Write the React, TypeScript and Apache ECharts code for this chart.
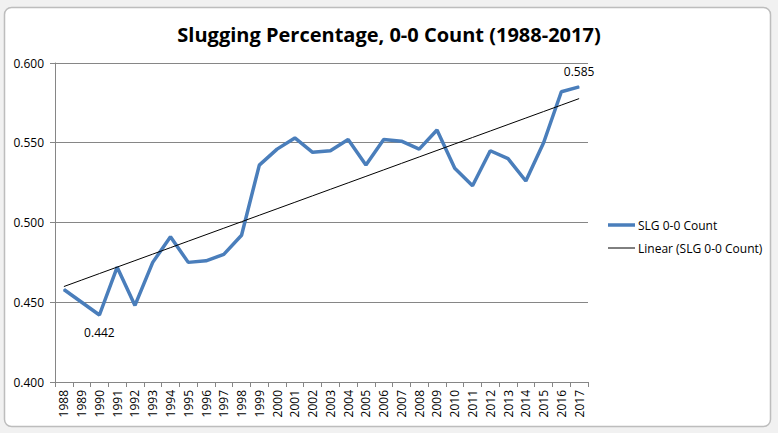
import React, { useEffect, useRef } from "react";
import * as echarts from "echarts";

const years = ["1988","1989","1990","1991","1992","1993","1994","1995","1996","1997","1998","1999","2000","2001","2002","2003","2004","2005","2006","2007","2008","2009","2010","2011","2012","2013","2014","2015","2016","2017"];
const slg = [0.458, 0.450, 0.442, 0.472, 0.448, 0.475, 0.491, 0.475, 0.476, 0.480, 0.492, 0.536, 0.546, 0.553, 0.544, 0.545, 0.552, 0.536, 0.552, 0.551, 0.546, 0.558, 0.534, 0.523, 0.545, 0.540, 0.526, 0.550, 0.582, 0.585];
const yTicks = { min: 0.4, max: 0.6, interval: 0.05 };
const seriesName = "SLG 0-0 Count";
const trendName = "Linear (SLG 0-0 Count)";
const title = "Slugging Percentage, 0-0 Count (1988-2017)";
const labelBelow = [2];
const labelAbove = [29];

function linearFit(v: number[]) {
  const n = v.length;
  let sx = 0, sy = 0, sxx = 0, sxy = 0;
  v.forEach((y, i) => { sx += i; sy += y; sxx += i * i; sxy += i * y; });
  const b = (n * sxy - sx * sy) / (n * sxx - sx * sx);
  const a = (sy - b * sx) / n;
  return v.map((_, i) => a + b * i);
}

const FONT = "'Open Sans', 'Noto Sans', sans-serif";
const BLUE = "#4a7ebb";

export default function App() {
  const ref = useRef<HTMLDivElement>(null);
  useEffect(() => {
    if (!ref.current) return;
    const chart = echarts.init(ref.current, undefined, { renderer: "svg" });
    const trend = linearFit(slg);
    chart.setOption({
      animation: false,
      backgroundColor: "#f1f1f1",
      graphic: [
        {
          type: "rect",
          z: -10,
          shape: { x: 4.5, y: 7.5, width: 766, height: 419, r: 7 },
          style: { fill: "#ffffff", stroke: "#bdbdbd", lineWidth: 1.5 },
          silent: true,
        },
        {
          type: "line",
          shape: { x1: 608, y1: 225, x2: 635, y2: 225 },
          style: { stroke: BLUE, lineWidth: 3.5 },
          silent: true,
        },
        {
          type: "text",
          x: 638,
          y: 225,
          style: { text: seriesName, fontFamily: FONT, fontSize: 12, fill: "#000", verticalAlign: "middle", align: "left" },
          silent: true,
        },
        {
          type: "line",
          shape: { x1: 608, y1: 248, x2: 635, y2: 248 },
          style: { stroke: "#000", lineWidth: 1 },
          silent: true,
        },
        {
          type: "text",
          x: 638,
          y: 248,
          style: { text: trendName, fontFamily: FONT, fontSize: 12, fill: "#000", verticalAlign: "middle", align: "left" },
          silent: true,
        },
      ],
      title: {
        text: title,
        left: "center",
        top: 19,
        textStyle: { fontFamily: FONT, fontSize: 20, fontWeight: "bold", color: "#000" },
      },
      grid: { left: 55, right: 190, top: 63, bottom: 51, containLabel: false },
      xAxis: {
        type: "category",
        data: years,
        boundaryGap: true,
        axisLine: { lineStyle: { color: "#868686", width: 1 } },
        axisTick: { show: true, alignWithLabel: false, length: 5, lineStyle: { color: "#868686" } },
        axisLabel: { rotate: 90, interval: 0, fontFamily: FONT, fontSize: 12, color: "#000", margin: 8 },
        splitLine: { show: false },
      },
      yAxis: {
        type: "value",
        min: yTicks.min,
        max: yTicks.max,
        interval: yTicks.interval,
        axisLine: { show: true, lineStyle: { color: "#868686", width: 1 } },
        axisTick: { show: true, length: 5, lineStyle: { color: "#868686" } },
        axisLabel: { fontFamily: FONT, fontSize: 12, color: "#000", margin: 11, formatter: (v: number) => v.toFixed(3) },
        splitLine: { show: true, lineStyle: { color: "#868686", width: 1 } },
      },
      series: [
        {
          name: seriesName,
          type: "line",
          data: slg.map((v, i) => {
            if (labelBelow.includes(i)) return { value: v, label: { show: true, position: "bottom", distance: 11 } };
            if (labelAbove.includes(i)) return { value: v, label: { show: true, position: "top", distance: 9 } };
            return v;
          }),
          symbol: "circle",
          symbolSize: 1,
          showSymbol: true,
          showAllSymbol: true,
          lineStyle: { color: BLUE, width: 3.5 },
          itemStyle: { color: BLUE },
          label: { show: false, fontFamily: FONT, fontSize: 12, color: "#000", formatter: (p: any) => Number(p.value).toFixed(3) },
          z: 3,
        },
        {
          name: trendName,
          type: "line",
          data: trend,
          symbol: "none",
          lineStyle: { color: "#000", width: 1 },
          itemStyle: { color: "#000" },
          z: 4,
        },
      ],
    });
    return () => chart.dispose();
  }, []);
  return <div ref={ref} style={{ position: "fixed", left: 0, top: 0, width: 778, height: 433 }} />;
}
